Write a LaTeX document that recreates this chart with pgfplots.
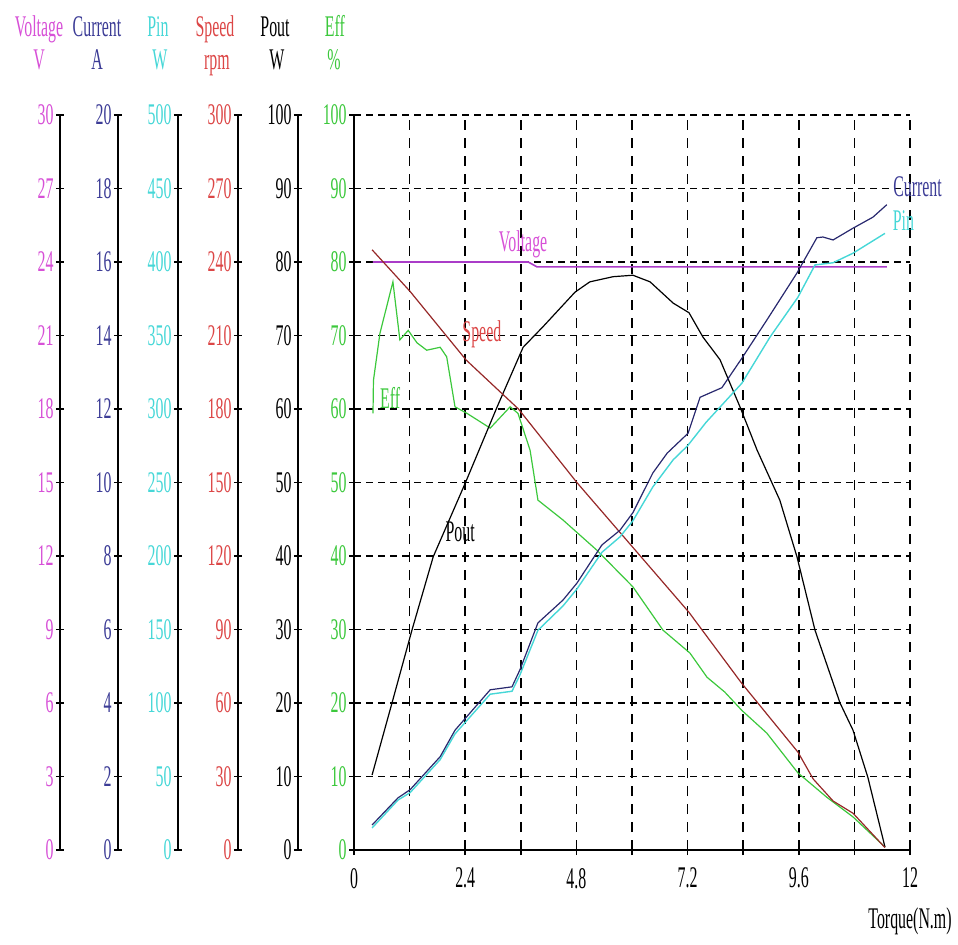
\documentclass[border=0pt]{standalone}
\usepackage{pgfplots}
\pgfplotsset{compat=1.18}
\usepackage{fontspec}
\setmainfont{Liberation Serif}[FakeStretch=0.53]
\definecolor{voltc}{RGB}{170,60,200}
\definecolor{voltlab}{RGB}{215,80,215}
\definecolor{curc}{RGB}{40,40,110}
\definecolor{curlab}{RGB}{60,60,150}
\definecolor{pinc}{RGB}{70,215,215}
\definecolor{spdlab}{RGB}{220,70,70}
\definecolor{spdc}{RGB}{150,40,40}
\definecolor{effc}{RGB}{60,200,60}
\pgfplotsset{
  plotarea/.style={scale only axis, width=278pt, height=367.5pt, xmin=0, xmax=12,
    at={(0,0)}, anchor=south west, /pgf/number format/assume math mode=true},
  scaleaxis/.style={scale only axis, width=1pt, height=367.5pt, xmin=0, xmax=1,
    anchor=south west, axis x line=none, axis y line=left,
    axis line style={-, line width=1pt, black},
    tick align=center, major tick length=4pt,
    major tick style={line width=0.8pt, black},
    yticklabel style={inner sep=1pt},
    /pgf/number format/assume math mode=true},
}
\begin{document}
\begin{tikzpicture}[font=\fontsize{15}{17}\selectfont]
\path[use as bounding box] (-177pt,-47pt) rectangle (302pt,425pt);

% ---------- left scales ----------
\begin{axis}[scaleaxis, at={(-147pt,0)}, ymin=0, ymax=30, ytick={0,3,...,30}, yticklabel style={text=voltlab}]
\addplot[draw=none] coordinates {(0,0)};
\end{axis}
\begin{axis}[scaleaxis, at={(-118pt,0)}, ymin=0, ymax=20, ytick={0,2,...,20}, yticklabel style={text=curlab}]
\addplot[draw=none] coordinates {(0,0)};
\end{axis}
\begin{axis}[scaleaxis, at={(-88pt,0)}, ymin=0, ymax=500, ytick={0,50,...,500}, yticklabel style={text=pinc}]
\addplot[draw=none] coordinates {(0,0)};
\end{axis}
\begin{axis}[scaleaxis, at={(-58pt,0)}, ymin=0, ymax=300, ytick={0,30,...,300}, yticklabel style={text=spdlab}]
\addplot[draw=none] coordinates {(0,0)};
\end{axis}
\begin{axis}[scaleaxis, at={(-28pt,0)}, ymin=0, ymax=100, ytick={0,10,...,100}, yticklabel style={text=black}]
\addplot[draw=none] coordinates {(0,0)};
\end{axis}

% ---------- main axis: Eff (%) and Pout (W) ----------
\begin{axis}[plotarea, ymin=0, ymax=100,
  axis lines=left, axis line style={-, line width=1pt, black},
  xtick={0,1.2,2.4,3.6,4.8,6,7.2,8.4,9.6,10.8,12},
  xticklabels={0,,2.4,,4.8,,7.2,,9.6,,12},
  ytick={0,10,...,100},
  yticklabel style={text=effc, inner sep=1pt},
  xticklabel style={yshift=-3pt},
  grid=major,
  major x grid style={black, line width=0.8pt, dash pattern=on 5pt off 4pt},
  major y grid style={black, line width=0.8pt, dash pattern=on 3.5pt off 2.5pt},
  tick align=center, major tick length=5pt,
  major tick style={line width=0.8pt, black},
  clip=false]
\addplot[effc, line width=0.6pt] coordinates {
(0.41,59.4)(0.42,63.9)(0.56,70.3)(0.84,77.3)(0.99,69.4)(1.17,70.7)(1.36,69.0)
(1.57,68.0)(1.86,68.4)(2.0,67.1)(2.18,60.3)(2.44,59.4)(2.94,57.4)(3.37,60.3)
(3.54,59.4)(3.80,54.4)(3.97,47.6)(4.51,44.9)(5.24,40.8)(6.02,35.8)(6.67,29.9)
(7.25,26.8)(7.62,23.5)(8.0,21.5)(8.37,19.0)(8.91,15.9)(9.58,10.5)(10.2,7.2)
(10.77,4.5)(11.46,0.4)};
\addplot[black, line width=0.6pt] coordinates {
(0.39,10.2)(0.82,20)(1.25,29.9)(1.71,39.9)(2.4,49.9)(3.09,60.3)(3.65,68.4)
(4.08,71.2)(4.77,75.9)(5.09,77.3)(5.59,78.0)(6.02,78.2)(6.39,77.3)(6.89,74.4)
(7.23,73.1)(7.53,69.8)(7.9,66.7)(8.33,60.3)(8.7,54.4)(9.19,47.6)(9.56,39.9)
(9.95,29.9)(10.49,20)(10.77,16.3)(11.09,9.9)(11.46,0.4)};
\node[text=effc] at (axis cs:0.78,61.5) {Eff};
\node[text=black] at (axis cs:2.29,43.3) {Pout};
\node[text=voltlab, anchor=south] at (axis cs:3.65,79.6) {Voltage};
\node[text=spdlab] at (axis cs:2.76,70.2) {Speed};
\node[text=curlab, anchor=west, inner sep=0pt] at (axis cs:11.63,90.2) {Current};
\node[text=pinc, anchor=west, inner sep=0pt] at (axis cs:11.62,85.6) {Pin};
\end{axis}

% ---------- Voltage (V) ----------
\begin{axis}[plotarea, hide axis, ymin=0, ymax=30]
\addplot[voltc, line width=0.8pt] coordinates {
(0.41,24.0)(3.76,24.0)(3.95,23.8)(11.5,23.8)};
\end{axis}

% ---------- Speed (rpm) ----------
\begin{axis}[plotarea, hide axis, ymin=0, ymax=300]
\addplot[spdc, line width=0.6pt] coordinates {
(0.39,245)(1.21,228)(2.42,200)(3.55,180)(4.81,150)(7.23,97)(8.37,68)
(9.58,40)(9.91,29)(10.34,20)(10.77,15)(11.46,1)};
\end{axis}

% ---------- Pin (W) ----------
\begin{axis}[plotarea, hide axis, ymin=0, ymax=500]
\addplot[pinc, line width=0.7pt] coordinates {
(0.39,15)(0.95,34)(1.21,39)(1.86,61.5)(2.18,79)(2.94,106)(3.41,108)(3.58,119)
(3.97,149.5)(4.51,166)(4.81,177.5)(5.35,202.5)(5.74,213)(6.02,224)(6.45,247)
(6.89,265.5)(7.2,275)(7.6,291)(8.37,317.5)(8.98,349)(9.58,376)(9.95,398)
(10.34,399.5)(10.77,406)(11.46,419.5)};
\end{axis}

% ---------- Current (A) ----------
\begin{axis}[plotarea, hide axis, ymin=0, ymax=20]
\addplot[curc, line width=0.6pt] coordinates {
(0.39,0.68)(0.95,1.42)(1.21,1.64)(1.86,2.54)(2.18,3.26)(2.94,4.36)(3.41,4.44)
(3.58,4.9)(3.97,6.18)(4.51,6.8)(4.81,7.26)(5.35,8.3)(5.74,8.7)(6.02,9.18)
(6.45,10.26)(6.76,10.8)(7.21,11.34)(7.47,12.32)(7.94,12.58)(8.37,13.38)
(8.91,14.42)(9.56,15.7)(9.99,16.66)(10.12,16.68)(10.34,16.6)(10.77,16.92)
(11.2,17.22)(11.5,17.56)};
\end{axis}

% ---------- headers ----------
\node[text=voltlab, anchor=base] at (-157.5pt,406.5pt) {Voltage};
\node[text=voltlab, anchor=base] at (-157.5pt,390pt) {V};
\node[text=curlab, anchor=base] at (-128.5pt,406.5pt) {Current};
\node[text=curlab, anchor=base] at (-128.5pt,390pt) {A};
\node[text=pinc, anchor=base] at (-98pt,406.5pt) {Pin};
\node[text=pinc, anchor=base] at (-97pt,390pt) {W};
\node[text=spdlab, anchor=base] at (-69.5pt,406.5pt) {Speed};
\node[text=spdlab, anchor=base] at (-68.5pt,390pt) {rpm};
\node[text=black, anchor=base] at (-39.5pt,406.5pt) {Pout};
\node[text=black, anchor=base] at (-38.5pt,390pt) {W};
\node[text=effc, anchor=base] at (-9.5pt,406.5pt) {Eff};
\node[text=effc, anchor=base] at (-10pt,390pt) {\%};
\node at (278pt,-35.75pt) {Torque(N.m)};
\end{tikzpicture}
\end{document}
